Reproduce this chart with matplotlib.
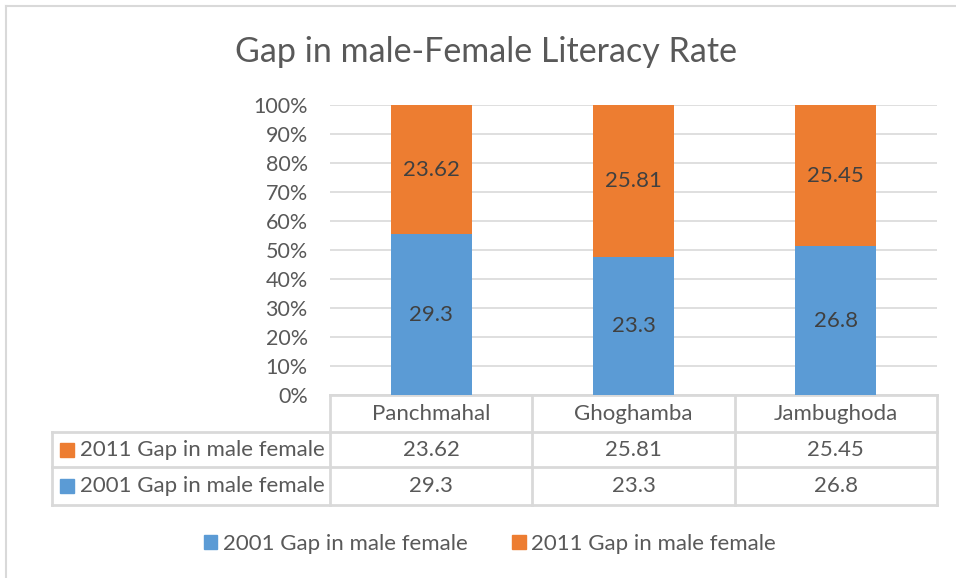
import numpy as np
import matplotlib.pyplot as plt
from matplotlib.lines import Line2D
from matplotlib.patches import Patch, Rectangle

plt.rcParams['font.family'] = ['Lato', 'DejaVu Sans']

districts = ['Panchmahal', 'Ghoghamba', 'Jambughoda']
gap_2001 = [29.3, 23.3, 26.8]
gap_2011 = [23.62, 25.81, 25.45]
label_2001 = '2001 Gap in male female'
label_2011 = '2011 Gap in male female'

blue = '#5B9BD5'
orange = '#ED7D31'
txt = '#595959'
grid = '#D9D9D9'

g1 = np.array(gap_2001)
g2 = np.array(gap_2011)
total = g1 + g2
p1 = g1 / total
p2 = g2 / total

W, H = 956, 578
fig = plt.figure(figsize=(W / 100, H / 100), dpi=100)
ax = fig.add_axes([330 / W, 1 - 395 / H, 607 / W, 290 / H])

x = np.arange(len(districts))
ax.bar(x, p1, width=0.4, color=blue, zorder=3)
ax.bar(x, p2, bottom=p1, width=0.4, color=orange, zorder=3)

for i in range(len(x)):
    ax.text(x[i], p1[i] / 2, f'{gap_2001[i]:g}', ha='center', va='center',
            fontsize=16, color='#404040', zorder=4)
    ax.text(x[i], p1[i] + p2[i] / 2, f'{gap_2011[i]:g}', ha='center', va='center',
            fontsize=16, color='#404040', zorder=4)

ax.set_xlim(-0.5, 2.5)
ax.set_ylim(0, 1)
ax.set_yticks(np.arange(0, 1.01, 0.1))
ax.set_yticklabels([f'{int(round(v * 100))}%' for v in np.arange(0, 1.01, 0.1)])
ax.tick_params(axis='y', length=0, labelsize=15.5, labelcolor=txt, pad=16)
ax.set_xticks([])
ax.grid(axis='y', color=grid, linewidth=1.2, zorder=0)
for s in ax.spines.values():
    s.set_visible(False)

# data table under the chart
tr = ax.get_xaxis_transform()
rows_y = [0, -37 / 290, -72 / 290, -110 / 290]
left_x = -0.5 - (330 - 52) / 607 * 3
lk = dict(color=grid, linewidth=2, clip_on=False, transform=tr, zorder=2)
ax.plot([-0.5, 2.5], [0, 0], **lk)
for yy in rows_y[1:]:
    ax.plot([left_x, 2.5], [yy, yy], **lk)
for xx in [-0.5, 0.5, 1.5, 2.5]:
    ax.plot([xx, xx], [0, rows_y[-1]], **lk)
ax.plot([left_x, left_x], [rows_y[1], rows_y[-1]], **lk)

mid = [(rows_y[i] + rows_y[i + 1]) / 2 for i in range(3)]
for i in range(len(x)):
    ax.text(x[i], mid[0], districts[i], ha='center', va='center', fontsize=16,
            color=txt, transform=tr)
    ax.text(x[i], mid[1], f'{gap_2011[i]:g}', ha='center', va='center', fontsize=16,
            color=txt, transform=tr)
    ax.text(x[i], mid[2], f'{gap_2001[i]:g}', ha='center', va='center', fontsize=16,
            color=txt, transform=tr)

for yy, lab, col in [(mid[1], label_2011, orange), (mid[2], label_2001, blue)]:
    ax.text(left_x + 0.138, yy, lab, ha='left', va='center', fontsize=16,
            color=txt, transform=tr)
    # legend key square, 14 px wide
    y_px = 395 + (-yy) * 290
    fig.add_artist(Rectangle((60 / W, 1 - (y_px + 7) / H), 14 / W, 14 / H,
                             color=col, transform=fig.transFigure))

fig.text(486 / W, 1 - 52 / H, 'Gap in male-Female Literacy Rate', ha='center',
         va='center', fontsize=24.5, color=txt)

handles = [Patch(color=blue, label=label_2001), Patch(color=orange, label=label_2011)]
fig.legend(handles=handles, loc='center', bbox_to_anchor=(490 / W, 1 - 544 / H),
           ncol=2, frameon=False, fontsize=16, labelcolor=txt, handlelength=0.6,
           handleheight=0.6, handletextpad=0.25, columnspacing=2)

# chart border (top and left visible)
fig.add_artist(Line2D([6 / W, 1], [1 - 6 / H, 1 - 6 / H], color=grid, linewidth=1.5,
                      transform=fig.transFigure))
fig.add_artist(Line2D([6 / W, 6 / W], [0, 1 - 6 / H], color=grid, linewidth=1.5,
                      transform=fig.transFigure))

fig.savefig('out.png', dpi=100)
